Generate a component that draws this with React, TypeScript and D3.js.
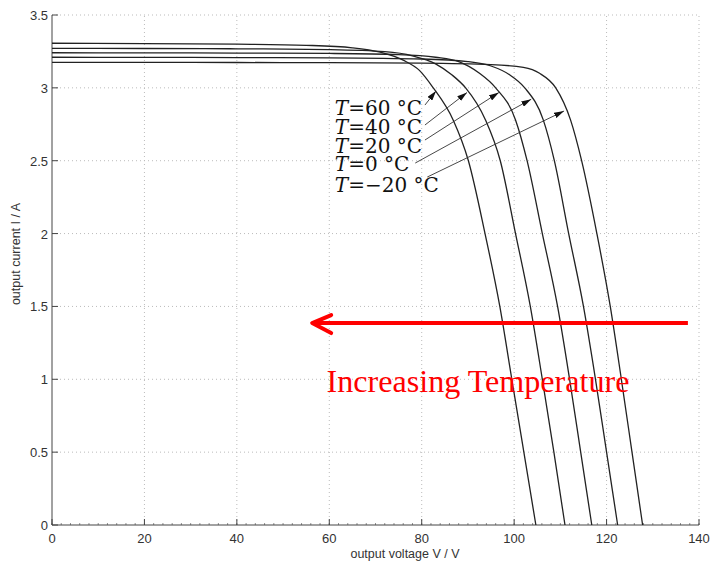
import * as d3 from "d3";

// tick values
const xTicks = [0, 20, 40, 60, 80, 100, 120, 140];
const yTicks = [0, 0.5, 1, 1.5, 2, 2.5, 3, 3.5];

// I-V curves: [voltage V, current A]
const curve60 = [[0, 3.306], [20, 3.304], [40, 3.3], [55, 3.292], [65, 3.275], [71, 3.245], [76, 3.19], [79.5, 3.12], [82.5, 3.0], [86.8, 2.78], [90.1, 2.5], [93.7, 2.0], [96.9, 1.5], [99.5, 1.0], [102.1, 0.5], [104.7, 0]];
const curve40 = [[0, 3.271], [20, 3.27], [40, 3.268], [60, 3.262], [72, 3.248], [78, 3.22], [83, 3.165], [86.5, 3.09], [89.5, 3.0], [93.8, 2.78], [97.0, 2.5], [100.3, 2.0], [103.5, 1.5], [106.1, 1.0], [108.6, 0.5], [111.0, 0]];
const curve20 = [[0, 3.241], [20, 3.24], [40, 3.239], [60, 3.236], [75, 3.228], [83, 3.21], [88, 3.18], [92.5, 3.1], [96, 3.0], [100.3, 2.78], [102.8, 2.5], [106.1, 2.0], [109.4, 1.5], [112.0, 1.0], [114.4, 0.5], [116.8, 0]];
const curve0 = [[0, 3.21], [20, 3.209], [40, 3.208], [60, 3.206], [80, 3.198], [90, 3.18], [95, 3.15], [99, 3.09], [102.3, 3.0], [106.3, 2.78], [108.7, 2.5], [111.8, 2.0], [115.0, 1.5], [117.6, 1.0], [120.0, 0.5], [122.4, 0]];
const curveM20 = [[0, 3.175], [20, 3.175], [40, 3.174], [60, 3.173], [80, 3.17], [95, 3.16], [102, 3.14], [105.5, 3.1], [109, 3.0], [112.2, 2.78], [114.6, 2.5], [117.9, 2.0], [120.8, 1.5], [123.2, 1.0], [125.5, 0.5], [127.8, 0]];
const curves = [curve60, curve40, curve20, curve0, curveM20];

// labels and arrows (data coords): label anchor, arrow start, arrow tip
const tempLabels = ["60", "40", "20", "0", "\u221220"];
const labelPos = [[61.2, 2.814], [61.2, 2.683], [61.2, 2.555], [61.2, 2.43], [61.2, 2.287]];
const arrowFrom = [[80.7, 2.882], [80.7, 2.745], [80.7, 2.642], [78.6, 2.484], [81.2, 2.388]];
const arrowTo = [[83.1, 2.979], [89.8, 2.968], [96.7, 2.968], [103.7, 2.922], [110.8, 2.841]];

export default function App() {
  const W = 712, H = 568;
  const x = d3.scaleLinear().domain([0, 140]).range([52, 699]);
  const y = d3.scaleLinear().domain([0, 3.5]).range([525, 15]);
  const line = d3.line<number[]>().x(d => x(d[0])).y(d => y(d[1])).curve(d3.curveMonotoneX);
  const minor = d3.range(0, 141, 2);

  const redY = y(1.386);
  const redX0 = x(56.3), redX1 = x(137.6);

  return (
    <svg width={W} height={H} style={{ position: "absolute", left: 0, top: 0, background: "#fff" }}>
      <defs>
        <marker id="ah" viewBox="0 0 10 6" refX="10" refY="3" markerWidth="10" markerHeight="6" markerUnits="userSpaceOnUse" orient="auto">
          <path d="M0,0 L10,3 L0,6 Z" fill="#111" />
        </marker>
      </defs>
      {/* grid */}
      <g stroke="#bbb" strokeWidth={1} strokeDasharray="1,3">
        {xTicks.slice(1).map(t => <line key={"gx" + t} x1={x(t)} x2={x(t)} y1={y(0)} y2={y(3.5)} />)}
        {yTicks.slice(1).map(t => <line key={"gy" + t} x1={x(0)} x2={x(140)} y1={y(t)} y2={y(t)} />)}
      </g>
      {/* axes */}
      <g stroke="#444" strokeWidth={1}>
        <line x1={x(0)} x2={x(0)} y1={y(0)} y2={y(3.5)} />
        <line x1={x(0)} x2={x(140)} y1={y(0)} y2={y(0)} />
        {xTicks.map(t => <line key={"tx" + t} x1={x(t)} x2={x(t)} y1={y(0)} y2={y(0) - 6} />)}
        {yTicks.map(t => <line key={"ty" + t} x1={x(0)} x2={x(0) + 6} y1={y(t)} y2={y(t)} />)}
        {minor.map(t => <line key={"mx" + t} x1={x(t)} x2={x(t)} y1={y(0)} y2={y(0) - 2} strokeWidth={0.6} />)}
      </g>
      <g fontFamily="Liberation Sans, Arial, sans-serif" fontSize={13} fill="#333">
        {xTicks.map(t => <text key={"lx" + t} x={x(t)} y={543} textAnchor="middle">{t}</text>)}
        {yTicks.map(t => <text key={"ly" + t} x={x(0) - 4} y={y(t) + 5} textAnchor="end">{t}</text>)}
        <text x={405} y={558} textAnchor="middle" fontSize={12.5}>output voltage V / V</text>
        <text transform={`translate(20,${254}) rotate(-90)`} textAnchor="middle" fontSize={12.5}>output current I / A</text>
      </g>
      {/* curves */}
      <g fill="none" stroke="#222" strokeWidth={1.3}>
        {curves.map((c, i) => <path key={"c" + i} d={line(c) || ""} />)}
      </g>
      {/* annotations */}
      <g stroke="#333" strokeWidth={0.9}>
        {arrowFrom.map((p, i) => (
          <line key={"a" + i} x1={x(p[0])} y1={y(p[1])} x2={x(arrowTo[i][0])} y2={y(arrowTo[i][1])} markerEnd="url(#ah)" />
        ))}
      </g>
      <g fontFamily="DejaVu Serif, serif" fontSize={20} fill="#111">
        {tempLabels.map((t, i) => (
          <text key={"t" + i} x={x(labelPos[i][0])} y={y(labelPos[i][1])}>
            <tspan fontStyle="italic">T</tspan>={t} °C
          </text>
        ))}
      </g>
      <g stroke="#ff0000" strokeWidth={4} fill="none" strokeLinecap="round" strokeLinejoin="round">
        <line x1={redX1} x2={redX0 + 2} y1={redY} y2={redY} strokeLinecap="butt" />
        <polyline points={`${redX0 + 19},${redY - 8} ${redX0},${redY} ${redX0 + 19},${redY + 10}`} />
      </g>
      <text x={x(59.4)} y={y(0.915)} fontFamily="Liberation Serif, Times New Roman, serif" fontSize={31} textLength={303} lengthAdjust="spacingAndGlyphs" fill="#ff0000">Increasing Temperature</text>
    </svg>
  );
}
